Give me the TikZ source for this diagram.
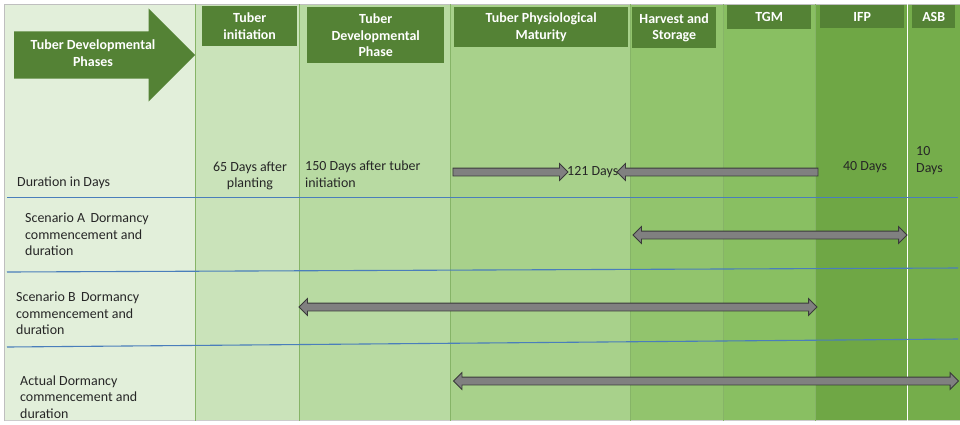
\documentclass[tikz,border=0pt]{standalone}
\usepackage{fontspec}
\setmainfont{Carlito}
\usetikzlibrary{shapes.arrows}
\definecolor{c0}{HTML}{E2EFDA}
\definecolor{c1}{HTML}{CAE3BA}
\definecolor{c2}{HTML}{B8DAA2}
\definecolor{c3}{HTML}{A8D18B}
\definecolor{c4}{HTML}{92C46D}
\definecolor{c5}{HTML}{89BF62}
\definecolor{c6}{HTML}{6FA745}
\definecolor{c7}{HTML}{75AD4B}
\definecolor{hdrgreen}{HTML}{548235}
\definecolor{bluel}{HTML}{4A7EBB}
\definecolor{colline}{HTML}{86B467}
\definecolor{arrgray}{HTML}{808080}
\definecolor{arredge}{HTML}{3A3A3A}
\tikzset{
  hdr/.style={fill=hdrgreen, text=white, font=\fontsize{14}{16.8}\selectfont\bfseries, align=center, inner sep=0pt, anchor=north west},
  lbl/.style={align=left, anchor=west, inner sep=0pt, text=black!85},
  blueline/.style={draw=bluel, line width=1.1bp},
  colsep/.style={draw=colline, line width=0.8bp},
  garrow/.style={single arrow, draw=arredge, fill=arrgray, line width=0.8bp, inner xsep=0pt, inner ysep=3.5bp, minimum width=0pt, single arrow head extend=4.5bp},
  gdarrow/.style={double arrow, draw=arredge, fill=arrgray, line width=0.8bp, inner xsep=0pt, inner ysep=3.5bp, minimum width=0pt, double arrow head extend=4.5bp}
}
\begin{document}
\begin{tikzpicture}[x=1bp,y=-1bp, font=\fontsize{14}{16.8}\selectfont]
\useasboundingbox (0,0) rectangle (960,424);
\fill[white] (0,0) rectangle (960,424);
% columns
\fill[c0] (4,4) rectangle (195,421);
\fill[c1] (195,4) rectangle (299,421);
\fill[c2] (299,4) rectangle (450,421);
\fill[c3] (450,4) rectangle (630,421);
\fill[c4] (630,4) rectangle (723,421);
\fill[c5] (723,4) rectangle (815,421);
\fill[c6] (815,4) rectangle (907,421);
\fill[c7] (907,4) rectangle (960,421);
\draw[draw=black!25, line width=0.8bp] (4.5,421) -- (4.5,4.5) -- (960,4.5);
\draw[draw=black!20, line width=0.8bp] (4.5,420.5) -- (960,420.5);
\draw[colsep] (195,4) -- (195,421);
\draw[colsep] (299,4) -- (299,421);
\draw[colsep] (450,4) -- (450,421);
\draw[colsep] (630,4) -- (630,421);
\draw[colsep] (723,4) -- (723,421);
\draw[colsep] (815,4) -- (815,421);
\draw[white, line width=1bp] (907,4) -- (907,421);
% row separators
\draw[blueline] (7,197.5) -- (958,197.5);
\draw[blueline] (7,272) -- (958,268);
\draw[blueline] (7,347) -- (958,339);
% big phase arrow
\node[single arrow, fill=hdrgreen, inner xsep=0pt, inner ysep=23.5bp, minimum width=0pt, minimum height=181bp, single arrow head extend=23bp, anchor=west] (phases) at (14,55) {};
\node[font=\fontsize{14}{16.8}\selectfont\bfseries, text=white, align=center, inner sep=0pt] (phasestxt) at (93,53.5) {Tuber Developmental\\Phases};
% headers
\node[hdr, minimum width=95bp, minimum height=40bp] (h1) at (202,6) {Tuber\\initiation};
\node[hdr, minimum width=137bp, minimum height=56bp] (h2) at (307,7) {Tuber\\Developmental\\Phase};
\node[hdr, minimum width=174bp, minimum height=40bp] (h3) at (454,7) {Tuber Physiological\\Maturity};
\node[hdr, minimum width=84bp, minimum height=41bp] (h4) at (632,7) {Harvest and\\Storage};
\node[hdr, minimum width=84bp, minimum height=24bp] (h5) at (727,5) {TGM};
\node[hdr, minimum width=84bp, minimum height=23bp] (h6) at (820,5) {IFP};
\node[hdr, minimum width=43bp, minimum height=23bp] (h7) at (912,5) {ASB};
% labels
\node[lbl] (dur) at (17,183) {Duration in Days};
\node[lbl, align=center, anchor=center] (d1) at (250,176) {65 Days after\\planting};
\node[lbl] (d2) at (305,174) {150 Days after tuber\\initiation};
\node[lbl] (d3) at (567,172) {121 Days};
\node[lbl, anchor=center] (d6) at (865,167) {40 Days};
\node[lbl] (d7) at (916,160.5) {10\\Days};
\node[lbl] (scA) at (25,234.5) {Scenario A\, Dormancy\\commencement and\\duration};
\node[lbl] (scB) at (16,313.5) {Scenario B\, Dormancy\\commencement and\\duration};
\node[lbl] (act) at (20,397) {Actual Dormancy\\commencement and\\duration};
% duration arrows
\node[garrow, minimum height=115bp] (a1) at (508.5,172) {};
\node[garrow, shape border rotate=180, minimum height=201bp] (a2) at (719.5,172) {};
\node[gdarrow, minimum height=274bp] (aA) at (770,235) {};
\node[gdarrow, minimum height=518bp] (aB) at (558,307) {};
\node[gdarrow, minimum height=505bp] (aC) at (706,381) {};
\end{tikzpicture}
\end{document}
